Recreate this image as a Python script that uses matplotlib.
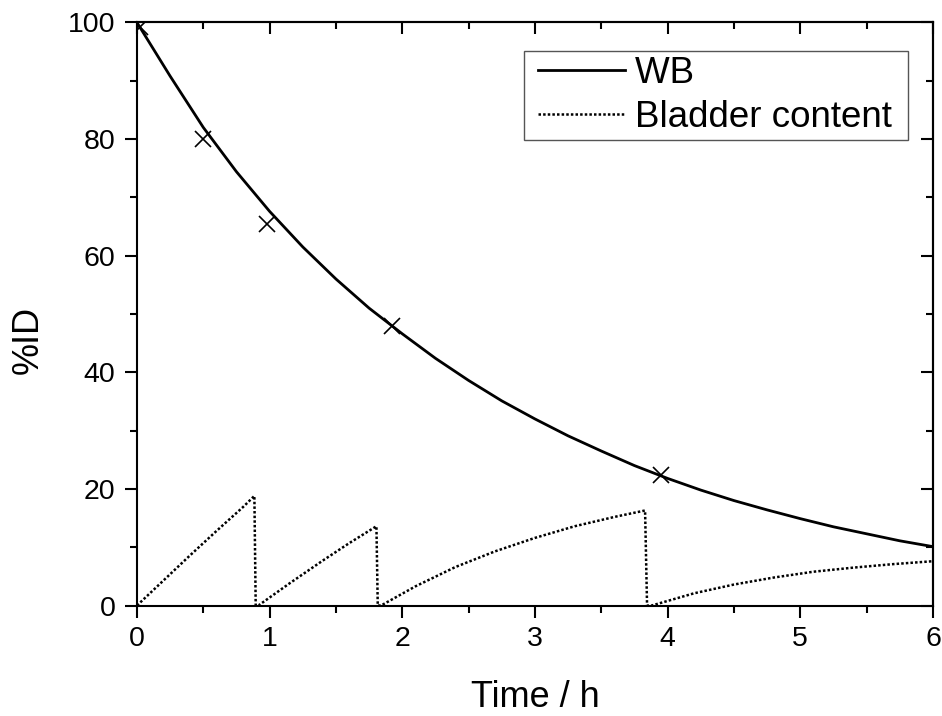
import matplotlib
matplotlib.use("Agg")
import matplotlib.pyplot as plt
from matplotlib.ticker import MultipleLocator
from matplotlib.legend_handler import HandlerLine2D

plt.rcParams['font.family'] = ['Liberation Sans', 'DejaVu Sans']

# Whole-body (WB) fitted curve
wb_t = [0, 0.25, 0.5, 0.75, 1, 1.25, 1.5, 1.75, 2, 2.25, 2.5, 2.75, 3,
        3.25, 3.5, 3.75, 4, 4.25, 4.5, 4.75, 5, 5.25, 5.5, 5.75, 6]
wb_y = [100, 90.8, 82.0, 74.4, 67.6, 61.5, 56.0, 51.0, 46.6, 42.4, 38.6,
        35.1, 32.0, 29.1, 26.5, 24.0, 21.8, 19.8, 18.0, 16.4, 14.9, 13.5,
        12.3, 11.1, 10.1]

# WB measured points (crosses)
meas_t = [0.02, 0.5, 0.98, 1.92, 3.95]
meas_y = [99.2, 80.0, 65.5, 48.0, 22.4]

# Bladder content (voiding drops to zero)
bl_t = [0, 0.2, 0.4, 0.6, 0.8, 0.885, 0.895, 0.915,
        1.15, 1.4, 1.6, 1.805, 1.815, 1.84,
        2.1, 2.4, 2.7, 3.0, 3.3, 3.6, 3.83, 3.845, 3.88,
        4.2, 4.5, 4.8, 5.1, 5.4, 5.7, 6.0]
bl_y = [0, 4.3, 8.6, 12.8, 16.9, 18.8, 0, 0,
        3.8, 7.7, 10.7, 13.6, 0, 0,
        3.3, 6.6, 9.3, 11.6, 13.6, 15.2, 16.3, 0, 0,
        2.1, 3.6, 4.8, 5.8, 6.5, 7.1, 7.6]

x_ticks = [0, 1, 2, 3, 4, 5, 6]
y_ticks = [0, 20, 40, 60, 80, 100]

fig = plt.figure(figsize=(9.42, 7.16), dpi=100)
ax = fig.add_axes([0.1454, 0.1543, 0.845, 0.8143])

ax.plot(wb_t, wb_y, color='black', lw=2.0, label='WB ', zorder=3)
ax.plot(bl_t, bl_y, color='black', lw=1.8, linestyle=(0, (1, 0.85)),
        label='Bladder content ', zorder=2)
ax.plot(meas_t, meas_y, linestyle='none', marker='x', color='black',
        markersize=12, markeredgewidth=1.2, zorder=4)

ax.set_xlim(0, 6)
ax.set_ylim(0, 100)
ax.set_xticks(x_ticks)
ax.set_yticks(y_ticks)
ax.xaxis.set_minor_locator(MultipleLocator(0.5))
ax.yaxis.set_minor_locator(MultipleLocator(10))

for s in ax.spines.values():
    s.set_linewidth(1.5)

ax.tick_params(axis='both', which='both', direction='out', width=1.5,
               labelsize=20.5)
ax.tick_params(axis='both', which='major', length=8.6)
ax.tick_params(axis='both', which='minor', length=5)
ax.tick_params(axis='x', which='major', pad=6)
ax.tick_params(axis='y', which='major', pad=7)

# mirrored top / right ticks pointing into the plot
sx = ax.secondary_xaxis('top')
sx.set_xticks(x_ticks)
sx.xaxis.set_minor_locator(MultipleLocator(0.5))
sx.tick_params(axis='x', which='both', direction='in', width=1.5,
               labeltop=False)
sx.tick_params(axis='x', which='major', length=8.6)
sx.tick_params(axis='x', which='minor', length=5)
sx.spines['top'].set_linewidth(1.5)

sy = ax.secondary_yaxis('right')
sy.set_yticks(y_ticks)
sy.yaxis.set_minor_locator(MultipleLocator(10))
sy.tick_params(axis='y', which='both', direction='in', width=1.5,
               labelright=False)
sy.tick_params(axis='y', which='major', length=8.6)
sy.tick_params(axis='y', which='minor', length=5)
sy.spines['right'].set_linewidth(1.5)

ax.set_xlabel('Time / h', fontsize=26)
ax.set_ylabel('%ID', fontsize=26)
ax.xaxis.set_label_coords(0.5, -0.128)
ax.yaxis.set_label_coords(-0.114, 0.456)

leg = ax.legend(loc='upper right', bbox_to_anchor=(0.9686, 0.9516),
                borderaxespad=0, fancybox=False, framealpha=1,
                edgecolor='#555555', fontsize=26.5, handlelength=2.61,
                handletextpad=0.28, labelspacing=0.235, borderpad=0.146,
                handler_map={matplotlib.lines.Line2D: HandlerLine2D(xpad=0.25)})
leg.get_frame().set_linewidth(1.0)

fig.savefig('out.png', dpi=100)
